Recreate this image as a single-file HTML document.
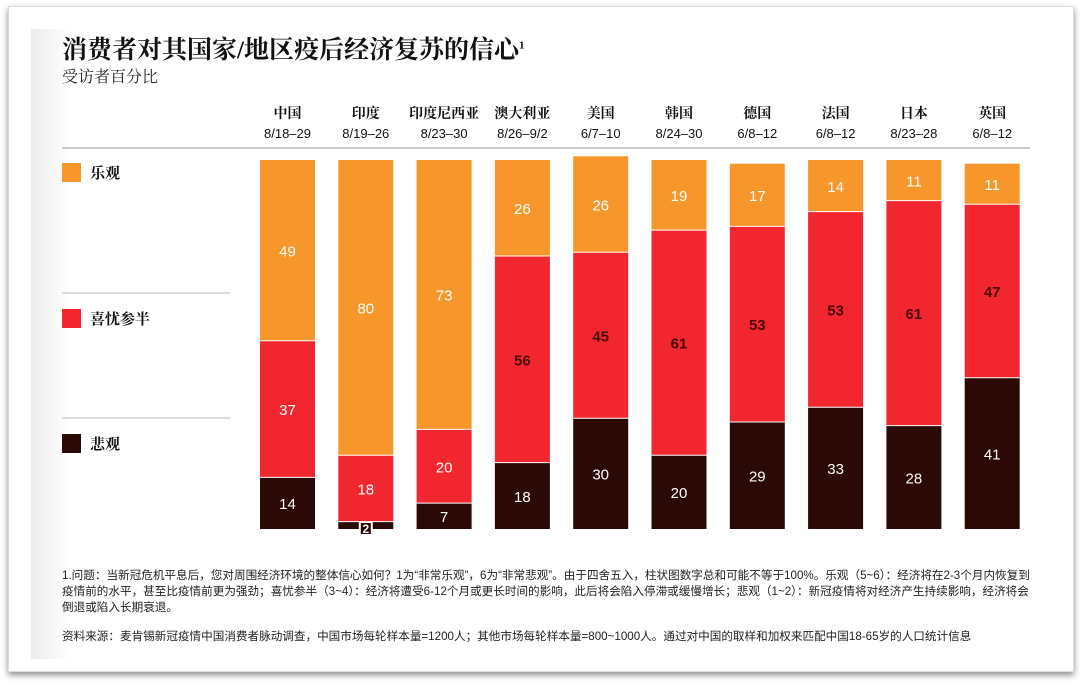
<!DOCTYPE html>
<html><head><meta charset="utf-8">
<style>
body{margin:0;width:1080px;height:686px;background:#fff;overflow:hidden;font-family:"Liberation Sans","Noto Sans CJK SC",sans-serif;}
#card{position:absolute;left:8px;top:6px;width:1064px;height:664px;background:#fff;box-shadow:0 3px 6px rgba(0,0,0,0.45);border:1px solid #ddd;}
#inner{position:absolute;left:22px;top:22px;width:1010px;height:630px;background:linear-gradient(90deg,#ececec 0,#fff 40px);}
.t{position:absolute;white-space:nowrap;}
</style></head><body>
<div id="card"><div id="inner"></div></div>
<div class="t" style="left:62px;top:30px;font-size:25px;font-weight:bold;font-family:'Liberation Serif','Noto Serif CJK SC',serif;color:#111;">消费者对其国家/地区疫后经济复苏的信心<sup style="font-size:11px;">1</sup></div>
<div class="t" style="left:62px;top:64px;font-size:16px;font-family:'Liberation Serif','Noto Serif CJK SC',serif;color:#222;">受访者百分比</div>
<svg id="chart" width="1080" height="686" style="position:absolute;left:0;top:0"></svg>
<div class="t" style="left:62px;top:568px;font-size:11.6px;line-height:16px;color:#222;white-space:normal;width:975px;">1.问题：当新冠危机平息后，您对周围经济环境的整体信心如何？1为“非常乐观”，6为“非常悲观”。由于四舍五入，柱状图数字总和可能不等于100%。乐观（5~6）：经济将在2-3个月内恢复到疫情前的水平，甚至比疫情前更为强劲；喜忧参半（3~4）：经济将遭受6-12个月或更长时间的影响，此后将会陷入停滞或缓慢增长；悲观（1~2）：新冠疫情将对经济产生持续影响，经济将会倒退或陷入长期衰退。</div>
<div class="t" style="left:62px;top:628px;font-size:11.6px;color:#222;">资料来源：麦肯锡新冠疫情中国消费者脉动调查，中国市场每轮样本量=1200人；其他市场每轮样本量=800~1000人。通过对中国的取样和加权来匹配中国18-65岁的人口统计信息</div>
<script>
const countries=["中国","印度","印度尼西亚","澳大利亚","美国","韩国","德国","法国","日本","英国"];
const dates=["8/18–29","8/19–26","8/23–30","8/26–9/2","6/7–10","8/24–30","6/8–12","6/8–12","8/23–28","6/8–12"];
const pessimistic=[14,2,7,18,30,20,29,33,28,41];
const mixed=[37,18,20,56,45,61,53,53,61,47];
const optimistic=[49,80,73,26,26,19,17,14,11,11];
const legendLabels=["乐观","喜忧参半","悲观"];
const NS="http://www.w3.org/2000/svg";
const svg=document.getElementById('chart');
const base=529,scale=3.69,x0=260,pitch=78.3,bw=55;
function yPos(v){return base-v*scale;}
function xPos(i){return x0+i*pitch;}
function el(tag,a){const e=document.createElementNS(NS,tag);for(const k in a)e.setAttribute(k,a[k]);svg.appendChild(e);return e;}
let ln=el('line',{x1:62,y1:148,x2:1030,y2:148,stroke:'#999','stroke-width':1});


[293,418].forEach(y=>{const l=el('line',{x1:62,y1:y,x2:230,y2:y,stroke:'#bbb','stroke-width':1});

});
const colors=["#f7972b","#f2262f","#2a0906"];
const ly=[172,318,443];
legendLabels.forEach((t,k)=>{
 const r=el('rect',{x:62,y:ly[k]-9,width:19,height:19,fill:colors[k]});
 
 
 const tx=el('text',{x:90,y:ly[k]+6,'font-size':15,'font-weight':'bold','font-family':'"Liberation Serif","Noto Serif CJK SC",serif',fill:'#111'});
 tx.textContent=t;
 
 
});
countries.forEach((c,i)=>{
 const cx=xPos(i)+bw/2;
 const h1=el('text',{x:cx,y:118,'text-anchor':'middle','font-size':14,'font-weight':'bold','font-family':'"Liberation Serif","Noto Serif CJK SC",serif',fill:'#111'});
 h1.textContent=c;
 
 
 const h2=el('text',{x:cx,y:138,'text-anchor':'middle','font-size':13,fill:'#111'});
 h2.textContent=dates[i];
 
 
 const segs=[[pessimistic[i],colors[2],'#fff'],[mixed[i],colors[1],(mixed[i]>=40?'#4a0808':'#fff')],[optimistic[i],colors[0],'#fff']];
 let cum=0;
 segs.forEach((s,k)=>{
  const y1=yPos(cum+s[0]),y2=yPos(cum);
  const r=el('rect',{x:xPos(i),y:y1,width:bw,height:y2-y1,fill:s[1]});
  
  
  if(k>0){el('line',{x1:xPos(i),x2:xPos(i)+bw,y1:y2,y2:y2,stroke:'#fff','stroke-width':1});}
  if(s[0]<5){
   const bx=el('rect',{x:cx-7,y:base-8,width:14,height:15,fill:'#fff'});
   
   
   el('rect',{x:cx-5,y:base-6,width:10,height:11,fill:colors[2]});
   const t=el('text',{x:cx,y:base+4,'text-anchor':'middle','font-size':12,fill:'#fff','font-weight':'bold'});
   t.textContent=s[0];
   
   
  } else {
   const t=el('text',{x:cx,y:(y1+y2)/2+6,'text-anchor':'middle','font-size':15,fill:s[2],'font-weight':k==1&&mixed[i]>=40?'bold':'normal'});
   t.textContent=s[0];
   
   
  }
  cum+=s[0];
 });
});
</script>
</body></html>
